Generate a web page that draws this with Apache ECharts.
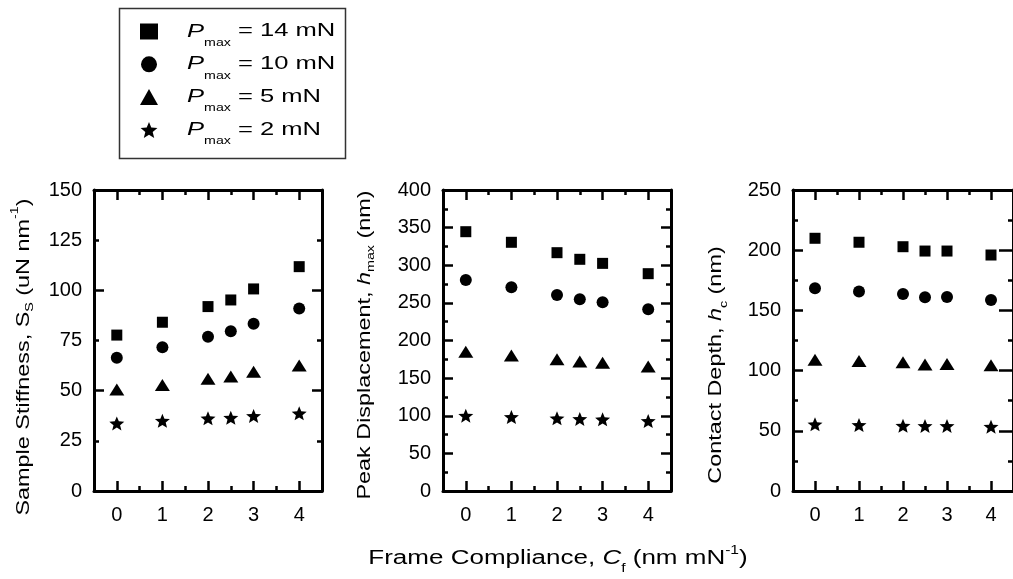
<!DOCTYPE html>
<html>
<head>
<meta charset="utf-8">
<script src="https://cdn.jsdelivr.net/npm/echarts@6.0.0/dist/echarts.min.js"></script>
<style>
  html, body { margin: 0; padding: 0; background: #fff; }
  #chart { width: 1013px; height: 579px; }
</style>
</head>
<body>
<div id="chart"></div>
<script>
// Frame compliance values (nm/mN) shared by all three panels
const compliance = [0, 1, 2, 2.5, 3, 4];

// Series names and legend captions, one per peak load
const seriesNames = ['P14', 'P10', 'P5', 'P2'];
const loadLabels = [' = 14 mN', ' = 10 mN', ' = 5 mN', ' = 2 mN'];

// Sample stiffness S_S (uN/nm)
const stiffness14 = [77.7, 84.1, 91.9, 95.2, 100.7, 111.8];
const stiffness10 = [66.4, 71.6, 76.9, 79.6, 83.4, 91.0];
const stiffness5  = [50.6, 52.8, 56.0, 57.0, 59.4, 62.6];
const stiffness2  = [33.7, 35.0, 36.2, 36.5, 37.4, 38.7];

// Peak displacement h_max (nm)
const hmax14 = [344.6, 330.5, 316.7, 307.9, 302.5, 288.8];
const hmax10 = [280.4, 270.7, 260.5, 254.7, 250.7, 241.4];
const hmax5  = [185.0, 180.0, 175.0, 172.0, 170.5, 165.5];
const hmax2  = [100.1, 98.3, 96.6, 95.7, 95.2, 93.0];

// Contact depth h_c (nm)
const hc14 = [209.9, 206.6, 202.9, 199.3, 199.3, 196.0];
const hc10 = [168.4, 165.6, 163.6, 160.9, 161.1, 158.6];
const hc5  = [109.0, 108.0, 107.0, 105.0, 105.5, 104.5];
const hc2  = [55.4, 54.8, 54.2, 54.0, 54.0, 53.4];

// Tick labels
const xTickLabels = [0, 1, 2, 3, 4];
const stiffnessTickLabels = [0, 25, 50, 75, 100, 125, 150];

const FONT = '"Liberation Sans", Arial, Helvetica, sans-serif';
// five-pointed star, outer radius 50, inner radius 22
const STAR = 'path://M50 0L62.9 32.2L97.6 34.5L70.9 56.8L79.4 90.5L50 72L20.6 90.5L29.1 56.8L2.4 34.5L37.1 32.2Z';
const symbols = ['rect', 'circle', 'triangle', STAR];
const symbolSizes = [11, 12, [15, 12], [15, 14]];

const panels = [
  { left: 94,  max: 150, labels: stiffnessTickLabels, values: [stiffness14, stiffness10, stiffness5, stiffness2], rightTick: 10 },
  { left: 443, max: 400, labels: null, values: [hmax14, hmax10, hmax5, hmax2], rightTick: 10 },
  { left: 793, max: 250, labels: null, values: [hc14, hc10, hc5, hc2], rightTick: 14 }
];

const PLOT_TOP = 190, PLOT_W = 228, PLOT_H = 301;
const black = { color: '#000', width: 2.5 };

function xAxis(gi, position, withLabels) {
  // ticks start at -0.5 with step 1, so the scale ticks land on the half
  // values and the minor ticks land on the integers
  const ax = {
    type: 'value', gridIndex: gi, position: position,
    min: -0.5, max: 4.5, interval: 1,
    axisLine: { show: true, onZero: false, lineStyle: { color: '#000', width: 3 } },
    axisTick: { show: true, inside: true, length: 5, lineStyle: black },
    minorTick: { show: true, splitNumber: 2, length: 10, lineStyle: black },
    splitLine: { show: false }, minorSplitLine: { show: false },
    axisLabel: { show: false }
  };
  if (withLabels) {
    ax.axisLabel = { show: true, customValues: xTickLabels, margin: 14,
      fontSize: 20, fontFamily: FONT, color: '#000' };
  }
  return ax;
}

function yAxis(gi, position, p, withLabels, tickLen) {
  const ax = {
    type: 'value', gridIndex: gi, position: position,
    min: 0, max: p.max, interval: 50,
    axisLine: { show: true, onZero: false, lineStyle: { color: '#000', width: 3 } },
    axisTick: { show: true, inside: true, length: tickLen, lineStyle: black },
    minorTick: { show: true, splitNumber: 2, length: 5, lineStyle: black },
    splitLine: { show: false }, minorSplitLine: { show: false },
    axisLabel: { show: false }
  };
  if (withLabels) {
    ax.axisLabel = { show: true, margin: 12, fontSize: 20, fontFamily: FONT, color: '#000' };
    if (p.labels) ax.axisLabel.customValues = p.labels;
  }
  return ax;
}

const grids = [], xAxes = [], yAxes = [], series = [];
panels.forEach(function (p, i) {
  grids.push({ left: p.left, top: PLOT_TOP, width: PLOT_W, height: PLOT_H, containLabel: false });
  xAxes.push(xAxis(i, 'bottom', true), xAxis(i, 'top', false));
  yAxes.push(yAxis(i, 'left', p, true, 10), yAxis(i, 'right', p, false, p.rightTick));
  p.values.forEach(function (vals, k) {
    series.push({
      type: 'scatter', name: seriesNames[k],
      xAxisIndex: 2 * i, yAxisIndex: 2 * i,
      symbol: symbols[k], symbolSize: symbolSizes[k],
      itemStyle: { color: '#000', opacity: 1 },
      emphasis: { disabled: true }, silent: true,
      data: compliance.map(function (x, j) { return [x, vals[j]]; })
    });
  });
});

// rich-text helpers for sub/superscripts
function tok(size, extra) {
  return Object.assign({ fontSize: size, fontFamily: FONT, fill: '#000', verticalAlign: 'middle' }, extra || {});
}
const TEXT_SCALE = 1.3;

function sideTitle(x, y, text, rich) {
  return {
    type: 'text', x: x, y: y, rotation: Math.PI / 2, scaleX: TEXT_SCALE, silent: true,
    style: { text: text, rich: rich, fontSize: 18, fontFamily: FONT, fill: '#000',
      lineHeight: 22, align: 'center', verticalAlign: 'middle' }
  };
}

const graphics = [
  // legend frame
  { type: 'rect', silent: true, shape: { x: 119.5, y: 8.5, width: 226, height: 150 },
    style: { fill: 'none', stroke: '#333', lineWidth: 1.5 } },
  // y-axis titles
  sideTitle(24, 357, 'Sample Stiffness, S{sub|S} (uN nm{sup|-1})', {
    sub: tok(11, { padding: [11, 0, 0, 0] }),
    sup: tok(11, { padding: [0, 0, 18, 0] })
  }),
  sideTitle(365, 345, 'Peak Displacement, {it|h}{sub|max} (nm)', {
    it: tok(18, { fontStyle: 'italic' }),
    sub: tok(11, { padding: [12, 0, 0, 0] })
  }),
  sideTitle(716, 365, 'Contact Depth, {it|h}{sub|c} (nm)', {
    it: tok(18, { fontStyle: 'italic' }),
    sub: tok(11, { padding: [15, 0, 0, 0] })
  }),
  // shared x-axis title
  { type: 'text', x: 558, y: 558.5, scaleX: TEXT_SCALE, silent: true,
    style: { text: 'Frame Compliance, {it|C}{sub|f} (nm mN{sup|-1})',
      rich: {
        it: tok(20, { fontStyle: 'italic' }),
        sub: tok(12, { padding: [20, 0, 0, 0] }),
        sup: tok(12, { padding: [0, 0, 15, 0] })
      },
      fontSize: 20, fontFamily: FONT, fill: '#000', lineHeight: 24,
      align: 'center', verticalAlign: 'middle' } }
];

// legend captions beside the legend symbols
const LEG_TOP = 31.5, LEG_STEP = 32.8, LEG_ICON_H = 16;
loadLabels.forEach(function (lab, k) {
  graphics.push({
    type: 'text', x: 187, y: LEG_TOP + k * LEG_STEP, scaleX: 1.42, silent: true,
    style: { text: '{it|P}{sub|max}' + lab,
      rich: {
        it: tok(18, { fontStyle: 'italic' }),
        sub: tok(10, { padding: [23, 0, 0, 0] })
      },
      fontSize: 18, fontFamily: FONT, fill: '#000', lineHeight: 22,
      align: 'left', verticalAlign: 'middle' }
  });
});

const chart = echarts.init(document.getElementById('chart'), null, { renderer: 'canvas' });
chart.setOption({
  backgroundColor: '#fff',
  animation: false,
  textStyle: { fontFamily: FONT },
  grid: grids,
  xAxis: xAxes,
  yAxis: yAxes,
  legend: {
    data: seriesNames, orient: 'vertical', left: 140, top: LEG_TOP - LEG_ICON_H / 2,
    itemWidth: 18, itemHeight: LEG_ICON_H, itemGap: LEG_STEP - LEG_ICON_H, padding: 0,
    selectedMode: false, formatter: function () { return ' '; },
    itemStyle: { opacity: 1 },
    textStyle: { fontSize: 10, color: '#000' }
  },
  series: series,
  graphic: graphics
});
</script>
</body>
</html>
